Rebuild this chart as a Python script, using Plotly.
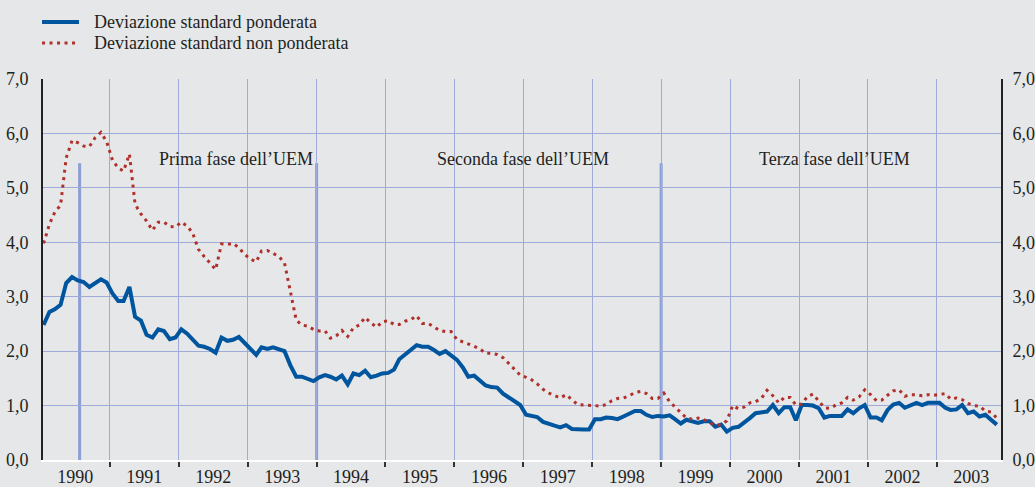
import plotly.graph_objects as go

# Monthly observations, Jan 1990 - Nov 2003 (mid-month)
start_year = 1990
n_months = 167
months = [f"{start_year + i // 12}-{i % 12 + 1:02d}-15" for i in range(n_months)]

ponderata = [
    2.48, 2.72, 2.77, 2.85, 3.25, 3.36, 3.30, 3.27, 3.18, 3.24, 3.32, 3.26,  # 1990
    3.06, 2.92, 2.92, 3.18, 2.63, 2.56, 2.30, 2.25, 2.40, 2.37, 2.22, 2.25,  # 1991
    2.40, 2.32, 2.22, 2.10, 2.08, 2.04, 1.97, 2.25, 2.19, 2.21, 2.26, 2.16,  # 1992
    2.05, 1.93, 2.07, 2.04, 2.07, 2.04, 2.00, 1.74, 1.53, 1.53, 1.48, 1.45,  # 1993
    1.52, 1.56, 1.53, 1.48, 1.55, 1.39, 1.59, 1.56, 1.64, 1.52, 1.55, 1.59,  # 1994
    1.60, 1.66, 1.85, 1.94, 2.02, 2.11, 2.08, 2.08, 2.02, 1.95, 2.00, 1.93,  # 1995
    1.84, 1.70, 1.53, 1.55, 1.45, 1.37, 1.34, 1.33, 1.22, 1.15, 1.08, 1.01,  # 1996
    0.83, 0.80, 0.79, 0.70, 0.66, 0.63, 0.60, 0.64, 0.57, 0.56, 0.56, 0.56,  # 1997
    0.75, 0.75, 0.78, 0.77, 0.75, 0.80, 0.85, 0.90, 0.90, 0.83, 0.79, 0.81,  # 1998
    0.80, 0.82, 0.75, 0.67, 0.74, 0.71, 0.68, 0.71, 0.71, 0.61, 0.65, 0.52,  # 1999
    0.59, 0.61, 0.68, 0.77, 0.86, 0.87, 0.89, 1.01, 0.86, 0.97, 0.97, 0.73,  # 2000
    1.01, 1.01, 1.00, 0.95, 0.78, 0.81, 0.81, 0.81, 0.93, 0.86, 0.95, 1.01,  # 2001
    0.78, 0.78, 0.73, 0.92, 1.02, 1.05, 0.96, 1.01, 1.05, 1.01, 1.05, 1.05,  # 2002
    1.05, 0.96, 0.92, 0.93, 1.01, 0.86, 0.89, 0.80, 0.83, 0.74, 0.65,        # 2003
]

non_ponderata = [
    3.98, 4.33, 4.55, 4.68, 5.55, 5.87, 5.83, 5.77, 5.76, 5.92, 6.02, 5.85,  # 1990
    5.51, 5.36, 5.31, 5.62, 4.70, 4.52, 4.39, 4.22, 4.37, 4.37, 4.29, 4.28,  # 1991
    4.37, 4.30, 4.17, 3.87, 3.74, 3.62, 3.50, 3.97, 3.96, 3.98, 3.90, 3.78,  # 1992
    3.69, 3.64, 3.84, 3.85, 3.79, 3.74, 3.62, 3.12, 2.57, 2.48, 2.46, 2.40,  # 1993
    2.37, 2.37, 2.24, 2.28, 2.38, 2.27, 2.43, 2.48, 2.62, 2.52, 2.44, 2.54,  # 1994
    2.56, 2.49, 2.49, 2.55, 2.58, 2.65, 2.51, 2.51, 2.44, 2.38, 2.36, 2.36,  # 1995
    2.21, 2.17, 2.14, 2.09, 2.04, 1.96, 1.96, 1.94, 1.88, 1.78, 1.67, 1.56,  # 1996
    1.52, 1.47, 1.40, 1.30, 1.23, 1.19, 1.14, 1.20, 1.10, 1.02, 1.01, 1.01,  # 1997
    1.00, 0.99, 1.02, 1.09, 1.13, 1.14, 1.18, 1.24, 1.26, 1.22, 1.13, 1.13,  # 1998
    1.23, 1.07, 0.97, 0.86, 0.77, 0.75, 0.77, 0.74, 0.69, 0.64, 0.65, 0.72,  # 1999
    1.00, 0.94, 0.97, 1.05, 1.07, 1.13, 1.28, 1.18, 1.05, 1.15, 1.15, 1.01,  # 2000
    1.03, 1.17, 1.21, 1.08, 0.96, 0.95, 1.01, 1.05, 1.15, 1.10, 1.16, 1.29,  # 2001
    1.20, 1.09, 1.10, 1.19, 1.27, 1.29, 1.17, 1.20, 1.20, 1.18, 1.20, 1.19,  # 2002
    1.20, 1.22, 1.12, 1.14, 1.11, 1.04, 1.00, 0.99, 0.90, 0.88, 0.77,        # 2003
]

series_names = ["Deviazione standard ponderata", "Deviazione standard non ponderata"]

# EMU stage markers
stage_dates = ["1990-07-25", "1994-01-01", "1999-01-01"]
stage_height = 5.45
stage_labels = ["Prima fase dell\u2019UEM", "Seconda fase dell\u2019UEM", "Terza fase dell\u2019UEM"]
stage_label_x = ["1992-10-30", "1996-12-30", "2001-07-05"]
stage_label_y = 5.53

y_ticks = [0, 1, 2, 3, 4, 5, 6, 7]

BG = "#e6e7e9"
GRID = "#9eaad8"
BLUE = "#00559f"
RED = "#b0302a"
BAR = "#8c9ed4"
TXT = "#231f20"
FONT = "Liberation Serif, Times New Roman, serif"
FS = 18
DOT_DASH = "3px,4.5px"

fig = go.Figure()

fig.add_trace(go.Scatter(
    x=months, y=ponderata, name=series_names[0], mode="lines",
    line=dict(color=BLUE, width=4),
))
fig.add_trace(go.Scatter(
    x=months, y=non_ponderata, name=series_names[1], mode="lines",
    line=dict(color=RED, width=3, dash=DOT_DASH),
))
# invisible helper so the right axis is rendered with the same scale
fig.add_trace(go.Scatter(x=[months[0]], y=[0], yaxis="y2", mode="markers",
                         marker=dict(opacity=0), showlegend=False, hoverinfo="skip"))

for d in stage_dates:
    fig.add_shape(type="line", xref="x", yref="y", x0=d, x1=d, y0=0, y1=stage_height,
                  line=dict(color=BAR, width=3), layer="below")

for lab, lx in zip(stage_labels, stage_label_x):
    fig.add_annotation(x=lx, y=stage_label_y, xref="x", yref="y", text=lab,
                       showarrow=False, font=dict(family=FONT, size=FS, color=TXT))

# Manual legend (placed above the plot area)
leg_rows_y = [1.1496, 1.0945]
leg_styles = [dict(color=BLUE, width=4), dict(color=RED, width=3, dash=DOT_DASH)]
for name, ly, st in zip(series_names, leg_rows_y, leg_styles):
    fig.add_shape(type="line", xref="paper", yref="paper", x0=-0.001, x1=0.0376,
                  y0=ly, y1=ly, line=st)
    fig.add_annotation(x=0.0515, y=ly, xref="paper", yref="paper", text=name,
                       xanchor="left", yanchor="middle", showarrow=False,
                       font=dict(family=FONT, size=FS, color=TXT))

fig.update_layout(
    width=1035, height=487,
    margin=dict(l=43, r=34, t=79, b=27, autoexpand=False),
    paper_bgcolor=BG, plot_bgcolor=BG,
    separators=", ",
    font=dict(family=FONT, size=FS, color=TXT),
    showlegend=False,
    xaxis=dict(
        type="date", range=["1990-01-12", "2003-12-07"],
        tick0="1990-01-01", dtick="M12", tickformat="%Y", ticklabelmode="period",
        showgrid=True, gridcolor=GRID, gridwidth=1.2,
        showline=True, linecolor="white", linewidth=2,
        ticks="outside", ticklen=5, tickwidth=1.5, tickcolor="#333333",
        ticklabelstandoff=-6,
        tickfont=dict(family=FONT, size=FS, color=TXT),
        zeroline=False, automargin=False,
    ),
    yaxis=dict(
        range=[0, 7], tickvals=y_ticks, tickformat=".1f",
        showgrid=True, gridcolor=GRID, gridwidth=1.2,
        showline=True, linecolor="#222222", linewidth=2,
        ticks="", ticklabelstandoff=9, zeroline=False, automargin=False,
        tickfont=dict(family=FONT, size=FS, color=TXT),
    ),
    yaxis2=dict(
        range=[0, 7], tickvals=y_ticks, tickformat=".1f", overlaying="y", side="right",
        showgrid=False, showline=True, linecolor="#222222", linewidth=2,
        ticks="", ticklabelstandoff=6, zeroline=False, automargin=False,
        tickfont=dict(family=FONT, size=FS, color=TXT),
    ),
)

fig.write_html(
    "out.html",
    config={"displayModeBar": False},
    post_script="document.body.style.margin='0';document.body.style.background='%s';" % BG,
)
